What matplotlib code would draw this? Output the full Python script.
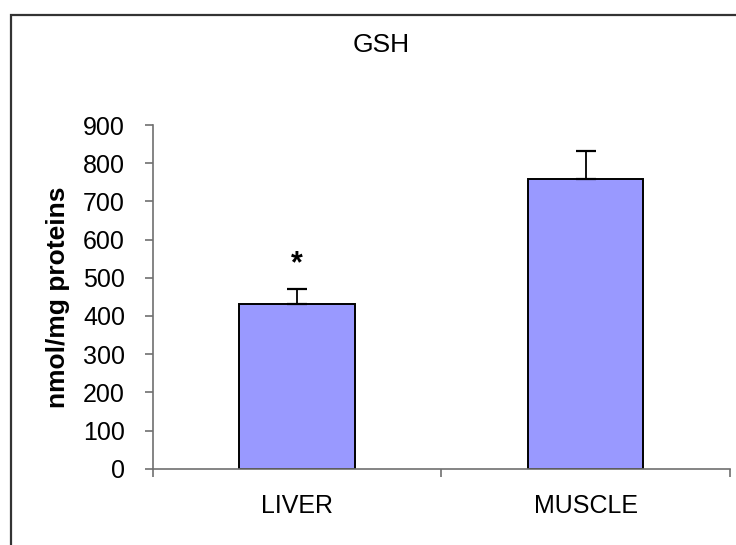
import numpy as np
import matplotlib
matplotlib.use("Agg")
from matplotlib import pyplot as plt
from matplotlib.patches import Rectangle

plt.rcParams['font.family'] = ['Liberation Sans', 'DejaVu Sans']

tissues = ["LIVER", "MUSCLE"]
gsh = [430, 758]
gsh_err = [40, 73]
significant = [True, False]

fig = plt.figure(figsize=(7.36, 5.45), dpi=100)

# outer frame (runs off the right and bottom edges like the source)
fig.patches.append(Rectangle((11 / 736, -0.1), 1.1, 1 - 14.7 / 545 + 0.1,
                             transform=fig.transFigure, fill=False,
                             edgecolor='#333333', linewidth=1.6))

ax = fig.add_axes([0.2075, 0.14, 0.7843, 0.6306])

x = np.arange(len(tissues))
ax.bar(x, gsh, width=0.4, color='#9999FF', edgecolor='black', linewidth=1.4, zorder=2)
ax.errorbar(x, gsh, yerr=[np.zeros(len(gsh)), gsh_err], fmt='none',
            ecolor='black', elinewidth=1.3, capsize=7.5, capthick=1.6, zorder=3)

for xi, v, e, s in zip(x, gsh, gsh_err, significant):
    if s:
        ax.text(xi, v + e + 65, "*", ha='center', va='center', fontsize=22,
                fontweight='bold')

ax.set_xlim(-0.5, len(tissues) - 0.5)
ax.set_ylim(0, 900)
ax.set_yticks(np.arange(0, 901, 100))

# category boundaries as major ticks, names on minor ticks
ax.set_xticks(np.arange(-0.5, len(tissues), 1.0))
ax.set_xticklabels([])
ax.set_xticks(x, minor=True)
ax.set_xticklabels(tissues, minor=True)

for sp in ['top', 'right']:
    ax.spines[sp].set_visible(False)
for sp in ['left', 'bottom']:
    ax.spines[sp].set_color('#707070')
    ax.spines[sp].set_linewidth(1.2)

ax.tick_params(axis='y', direction='out', length=6, width=1.2, color='#707070',
               labelsize=18, pad=14)
ax.tick_params(axis='x', which='major', direction='out', length=6, width=1.2,
               color='#707070')
ax.tick_params(axis='x', which='minor', length=0, labelsize=18, pad=18.5)

fig.text(380.8 / 736, 1 - 45 / 545, "GSH", ha='center', va='center', fontsize=19)
fig.text(57.5 / 736, 1 - 297 / 545, "nmol/mg proteins", rotation=90,
         ha='center', va='center', fontsize=19, fontweight='bold')

plt.savefig('out.png', dpi=100)
